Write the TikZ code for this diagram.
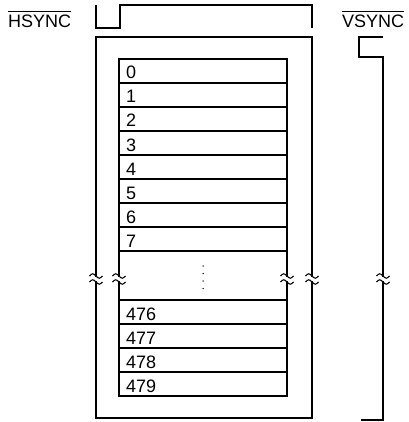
\documentclass[tikz,border=0pt]{standalone}
\usepackage{fontspec}
\setmainfont{Liberation Sans}
\usetikzlibrary{positioning}

\tikzset{
  wave/.style={line width=1.9pt, line join=miter},
  frame/.style={line width=1.9pt},
  rowbox/.style={draw, line width=1.7pt, minimum width=168pt, minimum height=24pt,
    inner sep=0pt, outer sep=0pt, anchor=north west},
  rowlabel/.style={anchor=base west, inner sep=0pt, font=\fontsize{18}{18}\selectfont},
  siglabel/.style={anchor=base west, inner sep=0pt, font=\fontsize{18}{18}\selectfont},
  bar/.style={line width=0.9pt},
  brk/.style={line width=1.1pt}
}

% break mark on a vertical line at x = #1
\newcommand{\brkmark}[1]{%
  \fill[white] ({#1-3},276.9) rectangle ({#1+3},281.1);
  \draw[brk] ({#1-6.5},276) sin ({#1-3.25},273.8) cos (#1,276) sin ({#1+3.25},278.2) cos ({#1+6.5},276);
  \draw[brk] ({#1-6.5},282) sin ({#1-3.25},279.8) cos (#1,282) sin ({#1+3.25},284.2) cos ({#1+6.5},282);
}

\begin{document}
\begin{tikzpicture}[x=1pt, y=-1pt]
    \useasboundingbox (0,0) rectangle (408,422);

    % signal names
    \node[siglabel] (hsync) at (8,28) {HSYNC};
    \draw[bar] ([yshift=4pt]hsync.north west) -- ([yshift=4pt]hsync.north east);
    \node[siglabel] (vsync) at (342,28) {VSYNC};
    \draw[bar] ([yshift=4pt]vsync.north west) -- ([yshift=4pt]vsync.north east);

    % waveforms
    \draw[wave] (96,5) -- (96,28) -- (120,28) -- (120,5) -- (312,5) -- (312,28);
    \draw[wave] (383,37) -- (359,37) -- (359,57) -- (383,57) -- (383,420) -- (361,420);

    % outer frame
    \draw[frame] (96,37) rectangle (312,418);

    % lines
    \foreach \lab [count=\i from 0] in {0,...,7} {
        \node[rowbox] (r\lab) at (119,{59+24*\i}) {};
        \node[rowlabel] (t\lab) at ([xshift=7pt,yshift=4pt]r\lab.south west) {\lab};
    }
    \foreach \lab [count=\i from 0] in {476,...,479} {
        \node[rowbox] (r\lab) at (119,{300+24*\i}) {};
        \node[rowlabel] (t\lab) at ([xshift=7pt,yshift=4pt]r\lab.south west) {\lab};
    }
    \draw[line width=1.7pt] (r7.south west) -- (r476.north west);
    \draw[line width=1.7pt] (r7.south east) -- (r476.north east);

    % skipped lines
    \foreach \y in {266,273.5,281,288.5}
        \fill (203,\y) circle (0.75pt);

    % breaks
    \foreach \x in {96,119,287,312,383} {
        \brkmark{\x}
    }
\end{tikzpicture}
\end{document}
